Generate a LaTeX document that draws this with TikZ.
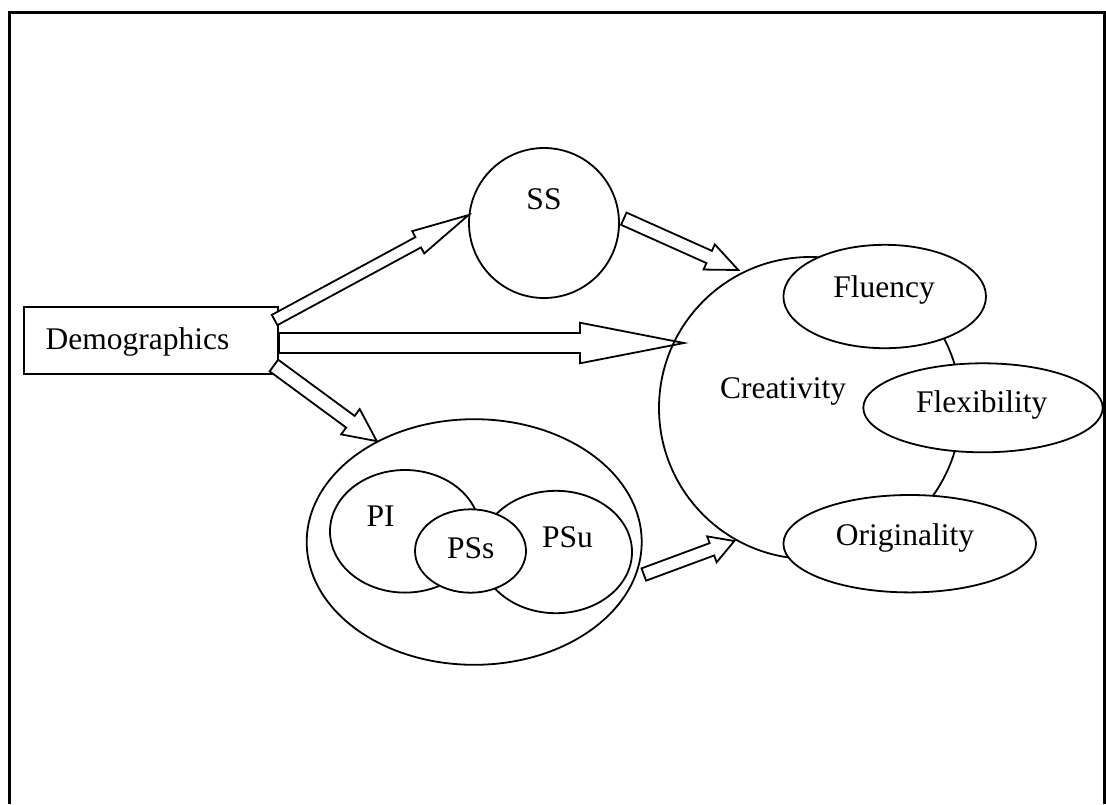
\documentclass[tikz,border=0pt]{standalone}
\usepackage{fontspec}
\setmainfont{Liberation Serif}
\usetikzlibrary{calc,shapes.geometric}

\pgfdeclarelayer{back}
\pgfdeclarelayer{front}
\pgfsetlayers{back,main,front}

\tikzset{
  outline/.style={draw=black, line width=1.8pt},
  bubble/.style={outline, ellipse, inner sep=0pt, fill=white},
  ring/.style={outline, circle, inner sep=0pt},
  txt/.style={inner sep=0pt, anchor=base, font=\fontsize{31.5}{36}\selectfont},
  block arrow/.style={outline, fill=white, line join=miter},
  frame line/.style={draw=black, line width=3pt},
}

% Wide outlined arrow: #1 tail, #2 tip, #3 half shaft width,
% #4 half head width, #5 head length, #6 name for the head base
\newcommand\blockarrow[6]{%
  \coordinate (#6) at ($(#2)!#5!(#1)$);
  \draw[block arrow]
    ($(#1)!#3!90:(#2)$) -- ($(#6)!#3!90:(#2)$) -- ($(#6)!#4!90:(#2)$) -- (#2)
    -- ($(#6)!#4!-90:(#2)$) -- ($(#6)!#3!-90:(#2)$) -- ($(#1)!#3!-90:(#2)$) -- cycle;
}

\begin{document}
\begin{tikzpicture}[x=1pt,y=-1pt]
\useasboundingbox (0,0) rectangle (1106,804);

\begin{pgfonlayer}{back}
  % open frame
  \draw[frame line] (9.5,804) -- (9.5,12) -- (1104,12) -- (1104,804);
  \node[outline, rectangle, minimum width=254pt, minimum height=67pt, inner sep=0pt] (demo) at (151,340.5) {};
  \node[txt] (demo-t) at (137.5,349.3) {Demographics};
\end{pgfonlayer}

% social support
\node[ring, minimum size=150pt] (ss) at (544,223) {};
\node[txt] (ss-t) at (544,209) {SS};

% personal group
\node[bubble, minimum width=335pt, minimum height=245.6pt] (big) at (474.2,542) {};
\node[bubble, minimum width=150pt, minimum height=122.6pt] (pi) at (405,531.3) {};
\node[bubble, minimum width=152pt, minimum height=122.4pt] (psu) at (556,552) {};
\node[bubble, minimum width=111pt, minimum height=83.4pt] (pss) at (470.5,551) {};
\node[txt] (pi-t) at (380.7,526) {PI};
\node[txt] (psu-t) at (567.5,547.3) {PSu};
\node[txt] (pss-t) at (470.7,558) {PSs};

\begin{pgfonlayer}{front}
  \node[ring, minimum size=302pt] (cr) at (810,408) {};
  \node[txt] (cr-t) at (783,398) {Creativity};
  \node[bubble, minimum width=202.6pt, minimum height=103.4pt] (flu) at (884.7,296.5) {};
  \node[txt] (flu-t) at (884,297) {Fluency};
  \node[bubble, minimum width=239.4pt, minimum height=89pt] (fle) at (983,407.8) {};
  \node[txt] (fle-t) at (981.7,412.7) {Flexibility};
  \node[bubble, minimum width=252.6pt, minimum height=97.4pt] (ori) at (909.7,543.7) {};
  \node[txt] (ori-t) at (905,545) {Originality};
\end{pgfonlayer}

% arrow end points
\coordinate (t1) at ($(demo.east)+(-4.3,-20.5)$);
\coordinate (h1) at (ss.174);
\coordinate (t2) at ($(demo.east)+(0,2.5)$);
\coordinate (h2) at ($(cr.center)+(-126,-65)$);
\coordinate (t3) at ($(demo.east)+(-5,25)$);
\coordinate (h3) at (big.134);
\coordinate (t4) at ($(ss.center)+(79.8,-4.3)$);
\coordinate (h4) at ($(cr.center)+(-71.7,-138)$);
\coordinate (t5) at ($(big.center)+(169.6,32.5)$);
\coordinate (h5) at ($(cr.center)+(-75.7,133)$);

\blockarrow{t1}{h1}{5.85pt}{12.65pt}{57.2pt}{b1}
\blockarrow{t2}{h2}{10pt}{20.3pt}{104pt}{b2}
\blockarrow{t3}{h3}{7.2pt}{15.7pt}{32.7pt}{b3}
\blockarrow{t4}{h4}{6.7pt}{13.8pt}{31.9pt}{b4}
\blockarrow{t5}{h5}{6.55pt}{13.8pt}{23.9pt}{b5}

\end{tikzpicture}
\end{document}
